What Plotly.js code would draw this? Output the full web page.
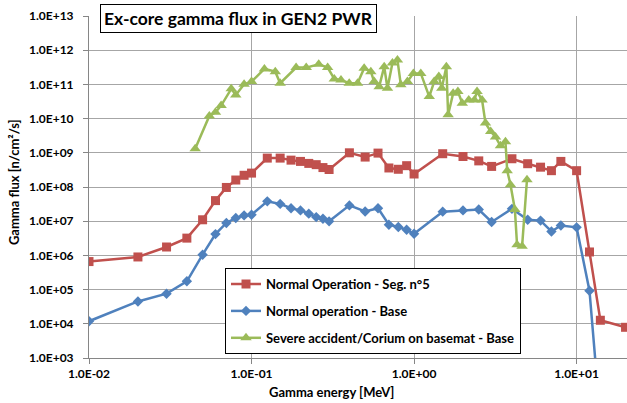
<!DOCTYPE html>
<html>
<head>
<meta charset="utf-8">
<script src="https://cdn.plot.ly/plotly-3.0.1.min.js"></script>
<style>html,body{margin:0;padding:0;background:#fff;}#chart{width:627px;height:403px;}</style>
</head>
<body>
<div id="chart"></div>
<script>
// Energies [MeV] for the two "Normal operation" series
const energyNormal = [0.01,0.02,0.03,0.04,0.05,0.06,0.07,0.08,0.09,0.1,0.125,0.15,0.175,0.2,0.225,0.25,0.275,0.3,0.4,0.5,0.6,0.7,0.8,0.9,1.0,1.5,2,2.5,3,4,5,6,7,8,10,12,14,20];
const fluxSeg5 = [6.6e5,9.0e5,1.76e6,3.2e6,1.1e7,4.0e7,9.7e7,1.6e8,2.2e8,2.55e8,7.0e8,7.0e8,6.1e8,5.6e8,4.9e8,4.5e8,3.7e8,3.25e8,1.0e9,7.5e8,9.8e8,3.6e8,3.3e8,4.2e8,2.4e8,9.4e8,7.8e8,5.8e8,4.0e8,6.7e8,4.8e8,3.8e8,3.0e8,5.6e8,3.0e8,1.26e6,1.27e4,7.9e3];
const energyBase = [0.01,0.02,0.03,0.04,0.05,0.06,0.07,0.08,0.09,0.1,0.125,0.15,0.175,0.2,0.225,0.25,0.275,0.3,0.4,0.5,0.6,0.7,0.8,0.9,1.0,1.5,2,2.5,3,4,5,6,7,8,10,12,14];
const fluxBase = [1.19e4,4.5e4,7.6e4,1.75e5,1.05e6,4.2e6,8.9e6,1.24e7,1.48e7,1.55e7,3.8e7,3.2e7,2.4e7,2.07e7,1.66e7,1.32e7,1.18e7,9.9e6,2.9e7,1.93e7,2.4e7,7.9e6,6.8e6,5.6e6,4.3e6,1.9e7,2.07e7,2.2e7,9.5e6,2.3e7,1.1e7,1.04e7,5.0e6,7.5e6,6.6e6,9.3e4,15];
// Severe accident series
const energySevere = [0.045,0.055,0.06,0.065,0.075,0.08,0.09,0.1,0.12,0.14,0.15,0.188,0.217,0.259,0.294,0.323,0.355,0.399,0.449,0.493,0.542,0.568,0.61,0.655,0.686,0.736,0.79,0.829,0.91,0.99,1.1,1.24,1.33,1.42,1.48,1.58,1.62,1.74,1.86,1.98,2.17,2.35,2.44,2.62,2.75,2.96,3.17,3.4,3.65,3.74,3.92,4.17,4.3,4.62,4.95];
const fluxSevere = [1.31e9,1.2e10,1.54e10,2.4e10,7.4e10,4.9e10,1.01e11,1.21e11,2.84e11,2.36e11,1.08e11,3.1e11,3.1e11,3.9e11,3.1e11,1.45e11,1.35e11,1.08e11,1.08e11,2.97e11,2.36e11,1.21e11,8.6e10,3.3e11,7.7e10,4.2e11,5.2e11,9.7e10,1.21e11,2.1e11,2.1e11,4.4e10,1.21e11,1.69e11,7.7e10,3.3e11,1.29e10,5.5e10,6.2e10,2.8e10,3.5e10,3.5e10,6.2e10,3.5e10,7.4e9,4.2e9,2.9e9,1.6e9,2.1e9,3.0e8,1.16e8,2.2e7,2.06e6,1.84e6,1.63e8];

const seriesNames = ["Normal Operation - Seg. n°5","Normal operation - Base","Severe accident/Corium on basemat - Base"];
const xTickVals = [0.01,0.1,1,10];
const xTickText = ["1.0E-02","1.0E-01","1.0E+00","1.0E+01"];
const yTickVals = [1e3,1e4,1e5,1e6,1e7,1e8,1e9,1e10,1e11,1e12,1e13];
const yTickText = ["1.0E+03","1.0E+04","1.0E+05","1.0E+06","1.0E+07","1.0E+08","1.0E+09","1.0E+10","1.0E+11","1.0E+12","1.0E+13"];
const titleText = "Ex-core gamma flux in GEN2 PWR";
const xTitle = "Gamma energy [MeV]";
const yTitle = "Gamma flux [n/cm²/s]";

const FONT = "Lato, 'Open Sans', sans-serif";

const traces = [
  {x: energyNormal, y: fluxSeg5, name: seriesNames[0], legendgroup:"a", mode:"lines+markers",
   line:{color:"#C0504D", width:2.5}, marker:{symbol:"square", size:9, color:"#C0504D"}},
  {x: energyBase, y: fluxBase, name: seriesNames[1], legendgroup:"b", mode:"lines+markers",
   line:{color:"#4F81BD", width:2.5}, marker:{symbol:"diamond", size:8, color:"#4F81BD"}},
  {x: energySevere, y: fluxSevere, name: seriesNames[2], legendgroup:"c", mode:"lines+markers",
   line:{color:"#9BBB59", width:2.5}, marker:{symbol:"triangle-up", size:10, color:"#9BBB59"}}
];

const tickFont = {family: FONT, size: 12, color: "#000", weight: "bold"};

const layout = {
  width: 627, height: 403,
  margin: {l: 89, r: 0, t: 16, b: 45, pad: 0},
  paper_bgcolor: "#fff", plot_bgcolor: "#fff",
  font: {family: FONT, color: "#000"},
  showlegend: true,
  legend: {x: 0.2528, y: 0.263, xanchor: "left", yanchor: "top",
    bordercolor: "#000", borderwidth: 1, bgcolor: "#fff",
    font: {family: FONT, size: 13, color: "#000", weight: "bold"},
    traceorder: "grouped", tracegroupgap: 7},
  xaxis: {type: "log", range: [-2, 1.31], tickvals: xTickVals, ticktext: xTickText,
    showgrid: true, gridcolor: "#a6a6a6", gridwidth: 1, zeroline: false,
    showline: true, linecolor: "#868686", linewidth: 1,
    ticks: "outside", ticklen: 5, tickcolor: "#868686", tickfont: tickFont},
  yaxis: {type: "log", range: [3, 13], tickvals: yTickVals, ticktext: yTickText,
    showgrid: true, gridcolor: "#a6a6a6", gridwidth: 1, zeroline: false,
    showline: true, linecolor: "#868686", linewidth: 1,
    ticks: "outside", ticklen: 5, tickcolor: "#868686", tickfont: tickFont,
    ticklabelstandoff: 7},
  annotations: [
    {text: titleText, xref: "paper", yref: "paper", x: 0.278, y: 0.994,
     xanchor: "center", yanchor: "middle", showarrow: false,
     font: {family: FONT, size: 17.5, color: "#000", weight: "bold"},
     bgcolor: "#fff", bordercolor: "#000", borderwidth: 1, borderpad: 3},
    {text: xTitle, xref: "paper", yref: "paper", x: 0.45, y: -0.099,
     xanchor: "center", yanchor: "middle", showarrow: false,
     font: {family: FONT, size: 13, color: "#000", weight: "bold"}},
    {text: yTitle, xref: "paper", yref: "paper", x: -0.139, y: 0.515,
     xanchor: "center", yanchor: "middle", showarrow: false, textangle: -90,
     font: {family: FONT, size: 13, color: "#000", weight: "bold"}}
  ]
};

Plotly.newPlot("chart", traces, layout, {displayModeBar: false, staticPlot: true});
</script>
</body>
</html>
